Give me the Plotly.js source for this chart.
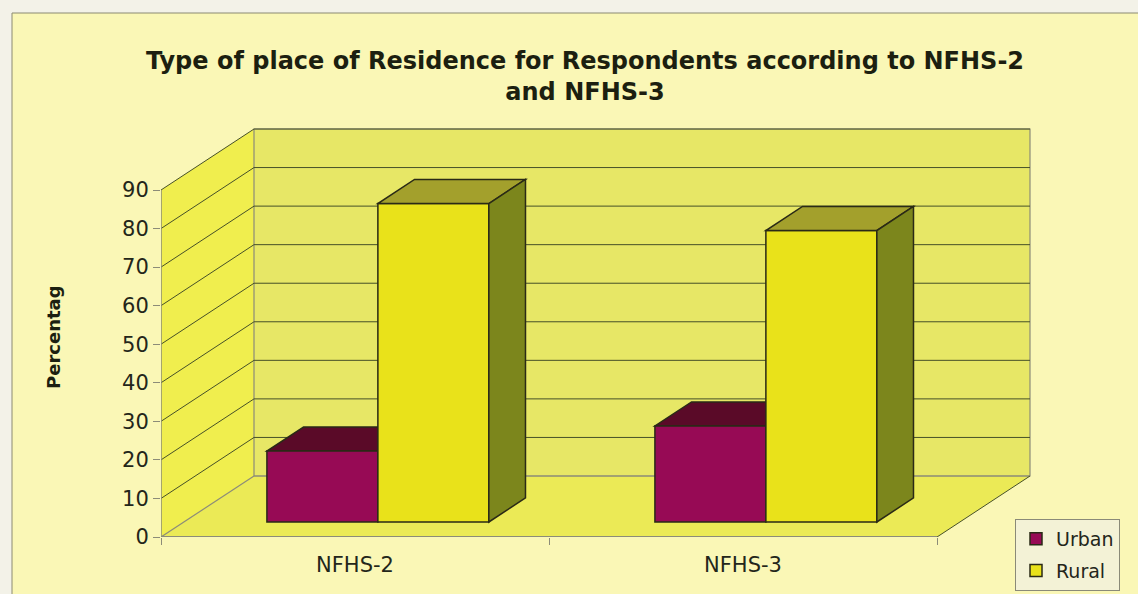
<!DOCTYPE html>
<html>
<head>
<meta charset="utf-8">
<script src="https://cdn.plot.ly/plotly-3.0.1.min.js"></script>
<style>
  html, body { margin: 0; padding: 0; background: #f3f2e8; }
  #chart { width: 1138px; height: 594px; }
</style>
</head>
<body>
<div id="chart"></div>
<script>
// ---- data ----
const categories = ['NFHS-2', 'NFHS-3'];
const urbanPct = [18.4, 24.9];
const ruralPct = [82.6, 75.6];
const yTicks = [0, 10, 20, 30, 40, 50, 60, 70, 80, 90];
const seriesNames = ['Urban', 'Rural'];

// ---- geometry of the pseudo-3D box (layout constants) ----
const W = 1138, H = 594;
const plotL = 161, plotR = 1036, plotT = 125, plotB = 537;
const pxPerCat = 388;            // horizontal pixels per category on the front plane
const pxPerUnit = 347 / 90;      // vertical pixels per percentage point
const xMin = -0.5, xMax = xMin + (plotR - plotL) / pxPerCat;
const yMax = (plotB - plotT) / pxPerUnit;
const yTop = yTicks[yTicks.length - 1];
const catLo = -0.5, catHi = categories.length - 0.5;

// pixel position -> "paper" fraction of the plot area
const px2x = px => (px - plotL) / (plotR - plotL);
const px2y = py => (plotB - py) / (plotB - plotT);

// oblique depth of the whole box, in data units
const DX = 93 / pxPerCat;
const DY = 61 / pxPerUnit;
// bars occupy the middle slice of the depth
const fFront = 0.246, fBack = 0.64;
const barW = 0.286;
const frontDX = fFront * DX, frontDY = fFront * DY;
const depthDX = (fBack - fFront) * DX, depthDY = (fBack - fFront) * DY;

const col = {
  outer: '#f3f2e8', chart: '#faf7b6',
  floor: '#ebea56', leftWall: '#f0ee4e', backWall: '#e7e766',
  grid: '#465028', edge: '#8c8c78', outline: '#2a2a16',
  urbanFront: '#970a55', urbanTop: '#5a0a28',
  ruralFront: '#e9e21a', ruralTop: '#a3a02c', ruralSide: '#7c861c'
};

function poly(pts) {
  return 'M' + pts.map(p => p[0] + ',' + p[1]).join(' L') + ' Z';
}
function pathShape(pts, fill, line, width, layer) {
  return { type: 'path', xref: 'x', yref: 'y', path: poly(pts), fillcolor: fill,
           line: { color: line, width: width }, layer: layer };
}
function lineShape(x0, y0, x1, y1, color, width, layer) {
  return { type: 'line', xref: 'x', yref: 'y', x0, y0, x1, y1,
           line: { color: color, width: width }, layer: layer };
}

const shapes = [];
// chart area panel
shapes.push({ type: 'rect', xref: 'paper', yref: 'paper',
  x0: px2x(12), x1: px2x(1145), y0: px2y(600), y1: px2y(13),
  fillcolor: col.chart, line: { color: '#8a8a72', width: 1 }, layer: 'below' });
// floor
shapes.push(pathShape([[catLo, 0], [catHi, 0], [catHi + DX, DY], [catLo + DX, DY]],
  col.floor, col.floor, 0, 'below'));
// left wall
shapes.push(pathShape([[catLo, 0], [catLo, yTop], [catLo + DX, yTop + DY], [catLo + DX, DY]],
  col.leftWall, col.leftWall, 0, 'below'));
// back wall
shapes.push(pathShape([[catLo + DX, DY], [catHi + DX, DY], [catHi + DX, yTop + DY], [catLo + DX, yTop + DY]],
  col.backWall, col.edge, 1.2, 'below'));
// gridlines on back wall and left wall
yTicks.forEach(v => {
  if (v === 0) return;
  shapes.push(lineShape(catLo + DX, v + DY, catHi + DX, v + DY, col.grid, 1, 'below'));
  shapes.push(lineShape(catLo, v, catLo + DX, v + DY, col.grid, 1, 'below'));
});
// box edges
shapes.push(lineShape(catLo, 0, catLo + DX, DY, col.edge, 1.2, 'below'));
shapes.push(lineShape(catLo + DX, DY, catHi + DX, DY, col.edge, 1.2, 'below'));
shapes.push(lineShape(catHi, 0, catHi + DX, DY, col.grid, 1, 'below'));
shapes.push(lineShape(catLo, 0, catHi, 0, col.edge, 2, 'below'));
shapes.push(lineShape(catLo, 0, catLo, yTop, col.edge, 1.5, 'below'));

// top and side faces of the bars
categories.forEach((c, i) => {
  // urban block (left), partly hidden behind the rural front face
  const uxl = i - barW + frontDX, uxr = i + frontDX;
  const ut = frontDY + urbanPct[i];
  shapes.push(pathShape([[uxl, ut], [uxr, ut], [uxr + depthDX, ut + depthDY], [uxl + depthDX, ut + depthDY]],
    col.urbanTop, col.outline, 1.5, 'between'));
  // rural block (right)
  const rxl = i + frontDX, rxr = i + barW + frontDX;
  const rt = frontDY + ruralPct[i];
  shapes.push(pathShape([[rxl, rt], [rxr, rt], [rxr + depthDX, rt + depthDY], [rxl + depthDX, rt + depthDY]],
    col.ruralTop, col.outline, 1.5, 'above'));
  shapes.push(pathShape([[rxr, frontDY], [rxr, rt], [rxr + depthDX, rt + depthDY], [rxr + depthDX, frontDY + depthDY]],
    col.ruralSide, col.outline, 1.5, 'above'));
});

const xIdx = categories.map((c, i) => i);
const traces = [
  { type: 'bar', name: seriesNames[0], x: xIdx, y: urbanPct, base: frontDY,
    offset: -barW + frontDX, width: barW, legendgroup: 'u',
    marker: { color: col.urbanFront, line: { color: col.outline, width: 1.5 } },
    customdata: categories, hovertemplate: '%{customdata}<br>Urban: %{y}<extra></extra>' },
  { type: 'bar', name: seriesNames[1], x: xIdx, y: ruralPct, base: frontDY,
    offset: frontDX, width: barW, legendgroup: 'r',
    marker: { color: col.ruralFront, line: { color: col.outline, width: 1.5 } },
    customdata: categories, hovertemplate: '%{customdata}<br>Rural: %{y}<extra></extra>' }
];

const font = 'DejaVu Sans, Liberation Sans, Arial, sans-serif';
const textCol = '#23261a';
const layout = {
  width: W, height: H,
  margin: { l: plotL, r: W - plotR, t: plotT, b: H - plotB, pad: 0, autoexpand: false },
  paper_bgcolor: col.outer, plot_bgcolor: 'rgba(0,0,0,0)',
  barmode: 'overlay',
  showlegend: true,
  font: { family: font, color: textCol },
  title: {
    text: 'Type of place of Residence for Respondents according to NFHS-2<br>and NFHS-3',
    font: { family: font, size: 24, weight: 'bold', color: '#1c1f10' },
    x: px2x(585), xanchor: 'center', xref: 'paper',
    y: 1 - 69 / H, yanchor: 'top', yref: 'container'
  },
  xaxis: {
    range: [xMin, xMax], showgrid: false, zeroline: false, showline: false,
    tickvals: xIdx, ticktext: categories, ticks: '',
    tickfont: { family: font, size: 21, color: textCol },
    ticklabelstandoff: 13,
    minor: { tickvals: [catLo, 0.5, catHi], ticks: 'outside', ticklen: 7, tickcolor: col.edge, tickwidth: 1.2, showgrid: false },
    fixedrange: true
  },
  yaxis: {
    range: [0, yMax], showgrid: false, zeroline: false, showline: false,
    tickvals: yTicks, ticks: 'outside', ticklen: 7, tickcolor: col.edge, tickwidth: 1.2,
    tickfont: { family: font, size: 21, color: textCol },
    fixedrange: true
  },
  legend: {
    x: px2x(1015), xanchor: 'left', y: px2y(519), yanchor: 'top',
    bgcolor: '#f3f2d6', bordercolor: '#8a8a78', borderwidth: 1,
    font: { family: font, size: 19, color: textCol },
    traceorder: 'grouped', tracegroupgap: 4, itemwidth: 30
  },
  annotations: [{
    text: 'Percentag', xref: 'paper', yref: 'paper',
    x: px2x(53), y: px2y(337), xanchor: 'center', yanchor: 'middle',
    textangle: -90, showarrow: false,
    font: { family: font, size: 18, weight: 'bold', color: '#1c1f10' }
  }],
  shapes: shapes
};

Plotly.newPlot('chart', traces, layout, { displayModeBar: false });
</script>
</body>
</html>
